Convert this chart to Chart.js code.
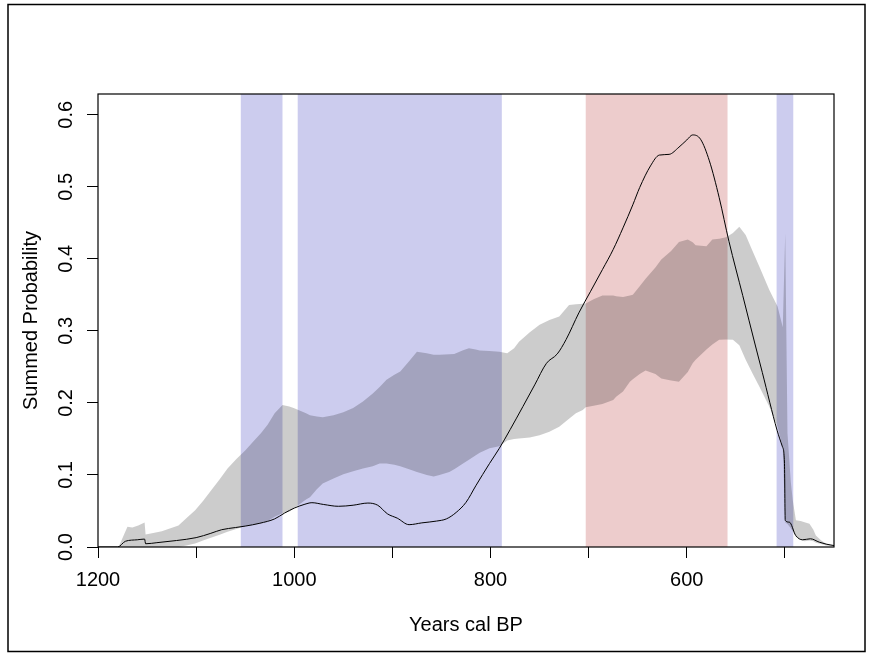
<!DOCTYPE html>
<html>
<head>
<meta charset="utf-8">
<script src="https://cdn.jsdelivr.net/npm/chart.js@4.4.1/dist/chart.umd.min.js"></script>
<style>
  html, body { margin: 0; padding: 0; background: #fff; }
  #wrap { width: 873px; height: 657px; }
</style>
</head>
<body>
<div id="wrap"><canvas id="spdChart" width="873" height="657"></canvas></div>
<script>
// summed probability (black line), years cal BP
const spdYears = [1200, 1180, 1172, 1160, 1152.5, 1151.5, 1140, 1120, 1100, 1085,
  1074, 1060, 1050, 1035, 1020, 1010, 1000, 990, 982, 970,
  955, 940, 925, 915, 905, 895, 883, 870, 855, 845,
  835, 825, 815, 801, 791, 780, 767, 755, 743, 732,
  723, 710, 698, 686, 675, 665, 655, 648, 637, 628,
  618, 608, 600, 594, 586, 577, 567, 557, 543, 530,
  523, 508, 502.5, 500.5, 499.7, 495.5, 489, 482, 474, 465,
  458, 450];
const spdValues = [0, 0, 0.008, 0.010, 0.011, 0.0045, 0.006, 0.009, 0.013, 0.019,
  0.024, 0.027, 0.029, 0.033, 0.039, 0.047, 0.054, 0.059, 0.0615, 0.059,
  0.0565, 0.058, 0.061, 0.058, 0.046, 0.040, 0.031, 0.0335, 0.036, 0.039,
  0.048, 0.062, 0.085, 0.116, 0.137, 0.163, 0.195, 0.225, 0.255, 0.268,
  0.288, 0.325, 0.355, 0.385, 0.413, 0.443, 0.475, 0.499, 0.529, 0.544,
  0.545, 0.555, 0.565, 0.572, 0.566, 0.536, 0.485, 0.424, 0.349, 0.279,
  0.242, 0.162, 0.139, 0.118, 0.037, 0.0345, 0.016, 0.010, 0.0114, 0.0067,
  0.004, 0.002];

// simulation envelope (grey band)
const envYears = [1200, 1179, 1170, 1165, 1159, 1152.5, 1151.5, 1145, 1135, 1118,
  1110, 1101, 1093, 1085, 1076, 1068, 1059, 1050, 1042, 1034,
  1027, 1020, 1012, 1005, 1000, 994, 988, 984, 977, 971,
  960, 950, 940, 930, 920, 913, 906, 898, 892, 883,
  875, 865, 858, 852, 842, 837, 828, 822, 815, 811,
  801, 791, 783, 776, 771, 760, 750, 740, 730, 720,
  713, 706, 703, 695, 686, 675, 672, 665, 658, 655,
  648, 642, 632, 626, 616, 608, 599, 594, 591, 580,
  574, 567, 560, 553, 546.5, 540, 533, 526, 516, 507.5,
  502.2, 499.7, 497.4, 494, 492, 488.8, 484, 480, 475, 471,
  468.5, 463, 458, 450];
const envUpper = [0, 0, 0.028, 0.027, 0.030, 0.034, 0.0174, 0.019, 0.022, 0.030,
  0.040, 0.051, 0.064, 0.078, 0.094, 0.109, 0.122, 0.134, 0.146, 0.158,
  0.170, 0.1855, 0.197, 0.195, 0.1925, 0.189, 0.1855, 0.183, 0.181, 0.180,
  0.183, 0.187, 0.193, 0.202, 0.213, 0.222, 0.232, 0.239, 0.2435, 0.258,
  0.271, 0.269, 0.267, 0.2667, 0.2675, 0.268, 0.273, 0.276, 0.274, 0.2727,
  0.272, 0.271, 0.269, 0.276, 0.285, 0.298, 0.3085, 0.315, 0.320, 0.336,
  0.337, 0.3377, 0.338, 0.344, 0.349, 0.349, 0.348, 0.347, 0.349, 0.350,
  0.362, 0.3725, 0.388, 0.399, 0.411, 0.4235, 0.427, 0.423, 0.419, 0.4175,
  0.427, 0.428, 0.430, 0.436, 0.4445, 0.433, 0.411, 0.389, 0.357, 0.334,
  0.305, 0.436, 0.158, 0.090, 0.065, 0.037, 0.036, 0.0345, 0.0323, 0.024,
  0.016, 0.009, 0.0045, 0.002];
const envLower = [0, 0, 0, 0, 0, 0, 0, 0, 0, 0,
  0.002, 0.005, 0.009, 0.013, 0.017, 0.021, 0.025, 0.029, 0.031, 0.033,
  0.036, 0.042, 0.047, 0.049, 0.054, 0.060, 0.066, 0.069, 0.080, 0.088,
  0.095, 0.101, 0.105, 0.109, 0.112, 0.116, 0.116, 0.114, 0.112, 0.108,
  0.104, 0.100, 0.098, 0.100, 0.104, 0.108, 0.116, 0.121, 0.1275, 0.131,
  0.137, 0.140, 0.148, 0.150, 0.1507, 0.152, 0.155, 0.160, 0.167, 0.178,
  0.1855, 0.190, 0.194, 0.196, 0.1985, 0.204, 0.2086, 0.216, 0.2295, 0.233,
  0.240, 0.245, 0.240, 0.234, 0.231, 0.2295, 0.243, 0.255, 0.260, 0.274,
  0.281, 0.2876, 0.288, 0.2876, 0.280, 0.260, 0.241, 0.2226, 0.195, 0.167,
  0.138, 0.034, 0.032, 0.026, 0.022, 0.014, 0.010, 0.008, 0.009, 0.008,
  0.006, 0.004, 0.002, 0.001];

// shaded periods
const bandStart = [1054.5, 996.5, 703, 508.5];
const bandEnd = [1012, 788.5, 558.5, 491.5];
const bandColors = ['#ccccee', '#ccccee', '#edcccc', '#ccccee'];

const xLabelYears = [1200, 1000, 800, 600];

function toPoints(xs, ys) {
  return xs.map((x, i) => ({x: x, y: ys[i]})).sort((a, b) => a.x - b.x);
}

const FONT = "'Liberation Sans', Arial, Helvetica, sans-serif";
Chart.defaults.font.family = FONT;
Chart.defaults.font.size = 20;
Chart.defaults.color = '#000';

const decor = {
  id: 'decor',
  beforeDatasetsDraw(chart) {
    const {ctx, chartArea: a, scales: {x}} = chart;
    ctx.save();
    bandStart.forEach((s, i) => {
      const x0 = x.getPixelForValue(s);
      const x1 = x.getPixelForValue(bandEnd[i]);
      ctx.fillStyle = bandColors[i];
      ctx.fillRect(Math.min(x0, x1), a.top, Math.abs(x1 - x0), a.bottom - a.top);
    });
    ctx.restore();
  },
  afterDraw(chart) {
    const {ctx, chartArea: a} = chart;
    ctx.save();
    ctx.strokeStyle = '#000';
    ctx.lineWidth = 1.2;
    ctx.strokeRect(a.left, a.top, a.right - a.left, a.bottom - a.top);
    ctx.lineWidth = 1.5;
    ctx.strokeRect(8, 4.5, 857, 647);
    ctx.restore();
  }
};

new Chart(document.getElementById('spdChart').getContext('2d'), {
  type: 'line',
  data: {
    datasets: [
      {
        label: 'SPD',
        data: toPoints(spdYears, spdValues),
        borderColor: '#000',
        borderWidth: 1,
        pointRadius: 0,
        cubicInterpolationMode: 'monotone',
        fill: false
      },
      {
        label: 'lower',
        data: toPoints(envYears, envLower),
        borderColor: 'transparent',
        borderWidth: 0,
        pointRadius: 0,
        fill: false
      },
      {
        label: 'upper',
        data: toPoints(envYears, envUpper),
        borderColor: 'transparent',
        borderWidth: 0,
        pointRadius: 0,
        backgroundColor: 'rgba(0,0,0,0.2)',
        fill: '-1'
      }
    ]
  },
  options: {
    responsive: false,
    animation: false,
    layout: { padding: { left: 0, right: 39, top: 94, bottom: 0 } },
    plugins: { legend: { display: false }, tooltip: { enabled: false } },
    scales: {
      x: {
        type: 'linear',
        reverse: true,
        min: 450,
        max: 1200,
        afterFit: (s) => { s.height = 110; },
        border: { display: false },
        grid: { drawOnChartArea: false, drawTicks: true, tickLength: 11, color: '#000', lineWidth: 1 },
        ticks: {
          stepSize: 100,
          includeBounds: false,
          autoSkip: false,
          maxRotation: 0,
          padding: 10,
          callback: (v) => xLabelYears.includes(v) ? String(v) : ''
        },
        title: { display: true, text: 'Years cal BP', padding: { top: 0, bottom: 20 } }
      },
      y: {
        min: 0,
        max: 0.6288,
        afterFit: (s) => { s.width = 98; },
        border: { display: false },
        grid: { drawOnChartArea: false, drawTicks: true, tickLength: 11, color: '#000', lineWidth: 1 },
        ticks: {
          stepSize: 0.1,
          includeBounds: false,
          autoSkip: false,
          minRotation: 90,
          maxRotation: 90,
          crossAlign: 'center',
          padding: 7,
          callback: (v) => v.toFixed(1)
        },
        title: { display: true, text: 'Summed Probability', padding: { top: 19, bottom: 0 } }
      }
    }
  },
  plugins: [decor]
});
</script>
</body>
</html>
